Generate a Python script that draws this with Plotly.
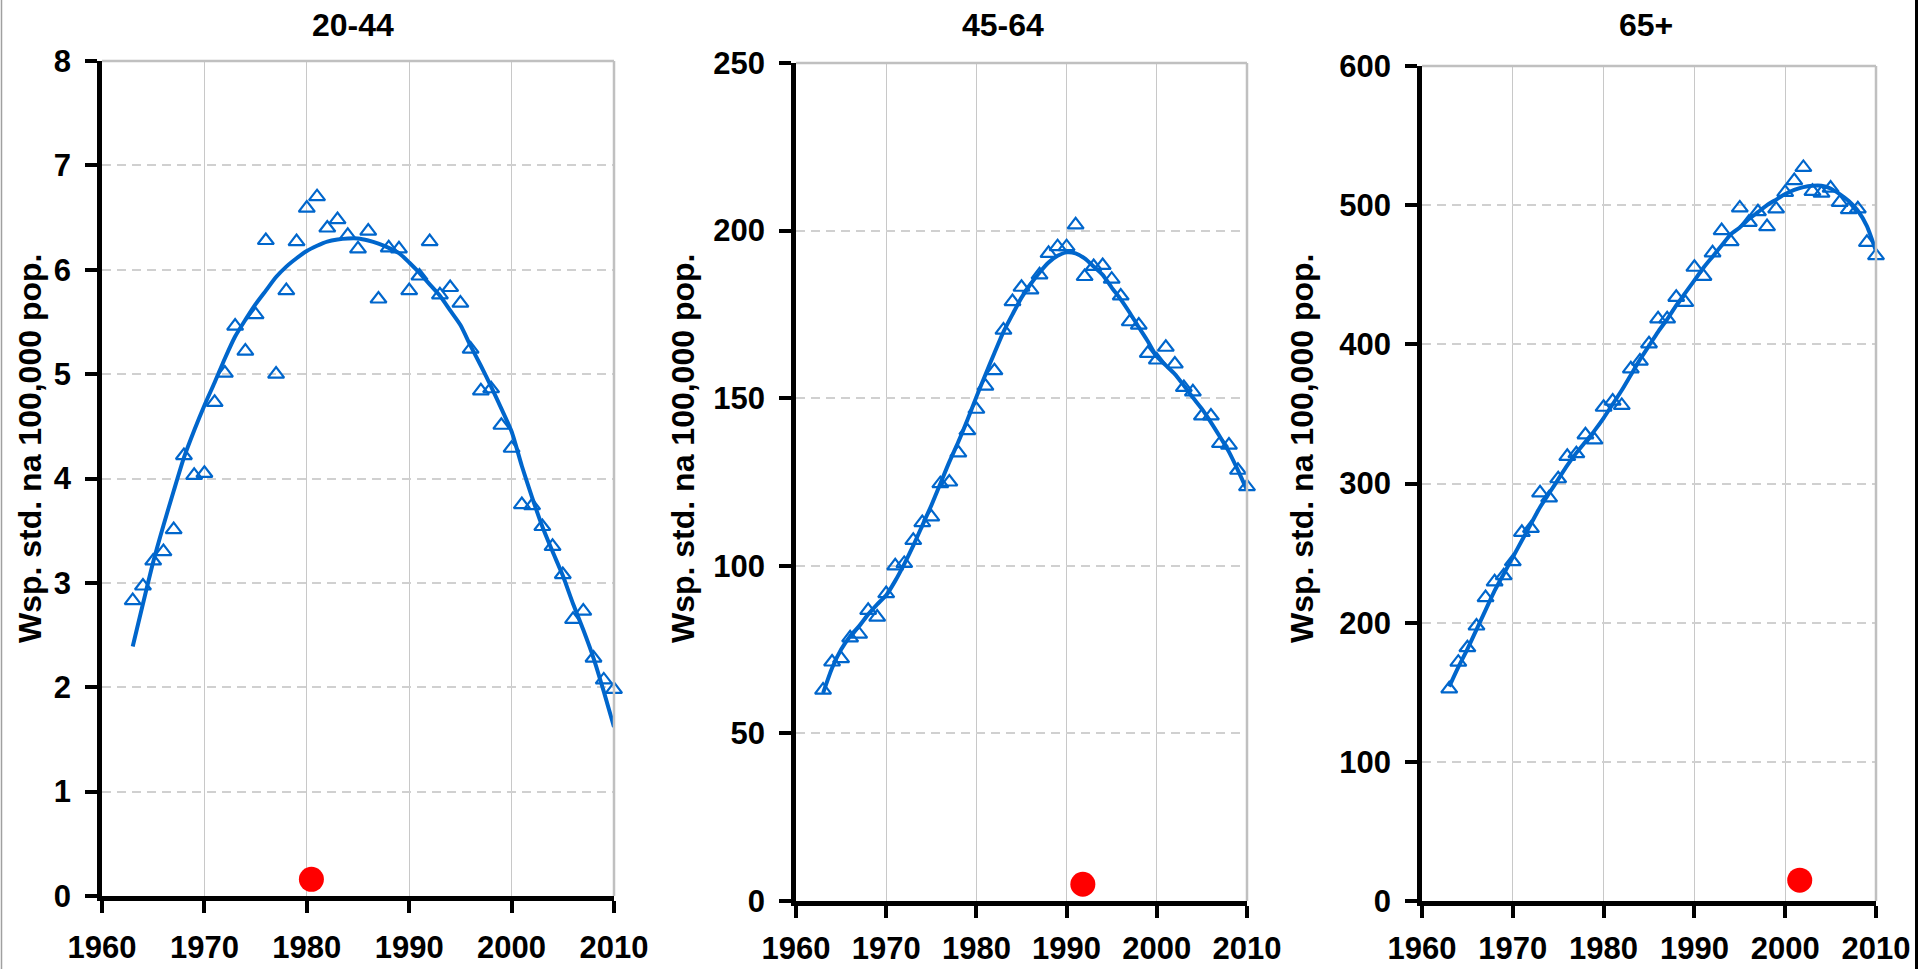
import plotly.graph_objects as go

years = list(range(1963, 2011))

# 20-44 observed rates
rate_20_44 = [2.83, 2.97, 3.21, 3.30, 3.51, 4.22, 4.03, 4.05, 4.73, 5.01,
              5.46, 5.22, 5.57, 6.28, 5.00, 5.80, 6.27, 6.59, 6.70, 6.40,
              6.48, 6.33, 6.20, 6.37, 5.72, 6.21, 6.20, 5.80, 5.94, 6.27,
              5.76, 5.83, 5.68, 5.24, 4.84, 4.86, 4.51, 4.29, 3.75, 3.74,
              3.54, 3.35, 3.08, 2.65, 2.73, 2.28, 2.07, 1.98]
trend_20_44 = [2.39, 2.80, 3.20, 3.55, 3.88, 4.20, 4.46, 4.70, 4.92, 5.15,
               5.36, 5.52, 5.67, 5.80, 5.93, 6.03, 6.11, 6.18, 6.23, 6.27,
               6.29, 6.30, 6.30, 6.28, 6.25, 6.21, 6.16, 6.07, 5.97, 5.86,
               5.75, 5.61, 5.47, 5.27, 5.08, 4.88, 4.67, 4.45, 4.12, 3.82,
               3.54, 3.30, 3.07, 2.80, 2.55, 2.28, 1.96, 1.62]

# 45-64
rate_45_64 = [62.9, 71.3, 72.3, 78.5, 79.6, 86.7, 84.7, 91.7, 100.0, 100.7,
              107.6, 112.9, 114.6, 124.5, 125.0, 133.7, 140.3, 146.7, 153.6, 158.2,
              170.3, 178.8, 183.1, 182.3, 186.8, 193.2, 195.2, 195.2, 201.7, 186.3,
              189.3, 189.6, 185.5, 180.5, 172.8, 171.8, 163.4, 161.4, 165.2, 160.2,
              153.2, 151.9, 144.7, 144.7, 136.5, 136.0, 128.5, 123.6]
trend_45_64 = [62.0, 69.5, 75.0, 79.0, 82.0, 85.5, 88.5, 91.2, 95.5, 100.5,
               106.0, 112.0, 118.0, 124.5, 131.0, 137.0, 143.5, 150.4, 157.0, 163.5,
               169.8, 175.0, 180.0, 184.0, 187.5, 190.5, 192.5, 193.5, 193.2, 191.7,
               189.3, 186.8, 183.0, 179.5, 175.5, 171.2, 167.0, 162.4, 159.8, 157.2,
               153.8, 150.2, 146.8, 142.8, 138.5, 134.0, 128.5, 122.6]

# 65+
rate_65 = [152.4, 171.6, 182.0, 197.6, 218.0, 229.3, 233.7, 243.8, 264.9, 267.8,
           293.3, 289.7, 303.4, 319.5, 321.4, 335.0, 331.4, 354.8, 359.2, 356.1,
           382.4, 387.9, 400.4, 418.3, 418.3, 433.8, 430.2, 455.4, 448.9, 465.7,
           481.7, 473.8, 498.0, 487.7, 495.3, 484.6, 497.3, 509.2, 517.6, 527.1,
           509.9, 508.7, 512.3, 502.0, 496.8, 497.3, 473.3, 463.7]
trend_65 = [154, 168, 181, 195, 209, 223, 235, 247, 259, 271,
            283, 293, 303, 313, 322, 330, 338, 347, 357, 367,
            378, 389, 399, 409, 418, 428, 437, 446, 455, 463,
            471, 479, 484, 490, 495, 500, 504, 508, 511, 513,
            514, 514, 512, 508, 503, 496, 485, 467]

# red markers (year, value)
peak_x = [1980.45, 1991.8, 2001.6]
peak_y = [0.16, 5.0, 15.0]

titles = ["20-44", "45-64", "65+"]
y_ranges = [[0, 8], [0, 250], [0, 600]]
y_dticks = [1, 50, 100]
ytitle = "Wsp. std. na 100,000 pop."

W, H = 1930, 969
# plot areas in pixels: (x0, x1, ytop, ybottom)
areas = [(102, 614, 61, 896), (796, 1247, 63, 901), (1422, 1876, 66, 901)]
title_x = [353, 1003, 1646]
ytitle_x = [30, 683, 1302]
x_standoff = [8, 4, 4]

BLUE = "#0066CC"
FONT = "Liberation Sans, Arial, sans-serif"

rates = [rate_20_44, rate_45_64, rate_65]
trends = [trend_20_44, trend_45_64, trend_65]

fig = go.Figure()
layout = dict(width=W, height=H,
              margin=dict(l=0, r=0, t=0, b=0, pad=0, autoexpand=False),
              paper_bgcolor="white", plot_bgcolor="white", showlegend=False)
shapes = []
annotations = []

for i in range(3):
    sfx = "" if i == 0 else str(i + 1)
    xa, ya = "x" + sfx, "y" + sfx
    x0, x1, yt, yb = areas[i]
    fig.add_trace(go.Scatter(x=years, y=trends[i], mode="lines",
                             line=dict(color=BLUE, width=4, shape="spline", smoothing=0.6),
                             xaxis=xa, yaxis=ya, cliponaxis=False))
    fig.add_trace(go.Scatter(x=years, y=rates[i], mode="markers",
                             marker=dict(symbol="triangle-up-open", size=14, color=BLUE,
                                         line=dict(width=2.2, color=BLUE)),
                             xaxis=xa, yaxis=ya, cliponaxis=False))
    fig.add_trace(go.Scatter(x=[peak_x[i]], y=[peak_y[i]], mode="markers",
                             marker=dict(symbol="circle", size=25, color="#FF0000"),
                             xaxis=xa, yaxis=ya, cliponaxis=False))
    layout["xaxis" + sfx] = dict(
        domain=[x0 / W, x1 / W], anchor=ya, range=[1960, 2010], dtick=10, tick0=1960,
        showgrid=True, gridcolor="#c8c8c8", gridwidth=1,
        showline=True, linecolor="black", linewidth=4.5,
        ticks="outside", ticklen=12, tickwidth=3.5, tickcolor="black",
        ticklabelstandoff=x_standoff[i], automargin=False,
        tickfont=dict(family=FONT, size=31, color="black", weight="bold"),
        zeroline=False, fixedrange=True)
    layout["yaxis" + sfx] = dict(
        domain=[1 - yb / H, 1 - yt / H], anchor=xa, range=y_ranges[i], dtick=y_dticks[i],
        showgrid=True, gridcolor="#d0d0d0", gridwidth=1.5, griddash="9px,6px",
        showline=True, linecolor="black", linewidth=4.5,
        ticks="outside", ticklen=12, tickwidth=3.5, tickcolor="black",
        ticklabelstandoff=8, automargin=False,
        tickfont=dict(family=FONT, size=31, color="black", weight="bold"),
        zeroline=False, fixedrange=True)
    # gray frame top and right
    shapes.append(dict(type="line", xref=xa + " domain", yref=ya + " domain",
                       x0=0, x1=1, y0=1, y1=1, line=dict(color="#c0c0c0", width=2.5)))
    shapes.append(dict(type="line", xref=xa + " domain", yref=ya + " domain",
                       x0=1, x1=1, y0=0, y1=1, line=dict(color="#c0c0c0", width=2.5)))
    annotations.append(dict(text=titles[i], x=title_x[i] / W, y=1 - 25 / H,
                            xref="paper", yref="paper", showarrow=False,
                            xanchor="center", yanchor="middle",
                            font=dict(family=FONT, size=32, color="black", weight="bold")))
    annotations.append(dict(text=ytitle, x=ytitle_x[i] / W, y=1 - 449 / H,
                            xref="paper", yref="paper", showarrow=False, textangle=-90,
                            xanchor="center", yanchor="middle",
                            font=dict(family=FONT, size=32, color="black", weight="bold")))

# page borders
shapes.append(dict(type="line", xref="paper", yref="paper", x0=1.5 / W, x1=1.5 / W, y0=0, y1=1,
                   line=dict(color="#a0a0a0", width=1.5)))
shapes.append(dict(type="line", xref="paper", yref="paper", x0=1916.5 / W, x1=1916.5 / W, y0=0, y1=1,
                   line=dict(color="black", width=3)))

layout["shapes"] = shapes
layout["annotations"] = annotations
fig.update_layout(**layout)
fig.write_html("out.html", config={"displayModeBar": False},
               post_script="document.documentElement.style.margin='0';"
                           "document.documentElement.style.overflow='hidden';"
                           "document.body.style.margin='0';"
                           "document.body.style.padding='0';"
                           "document.body.style.overflow='hidden';")
